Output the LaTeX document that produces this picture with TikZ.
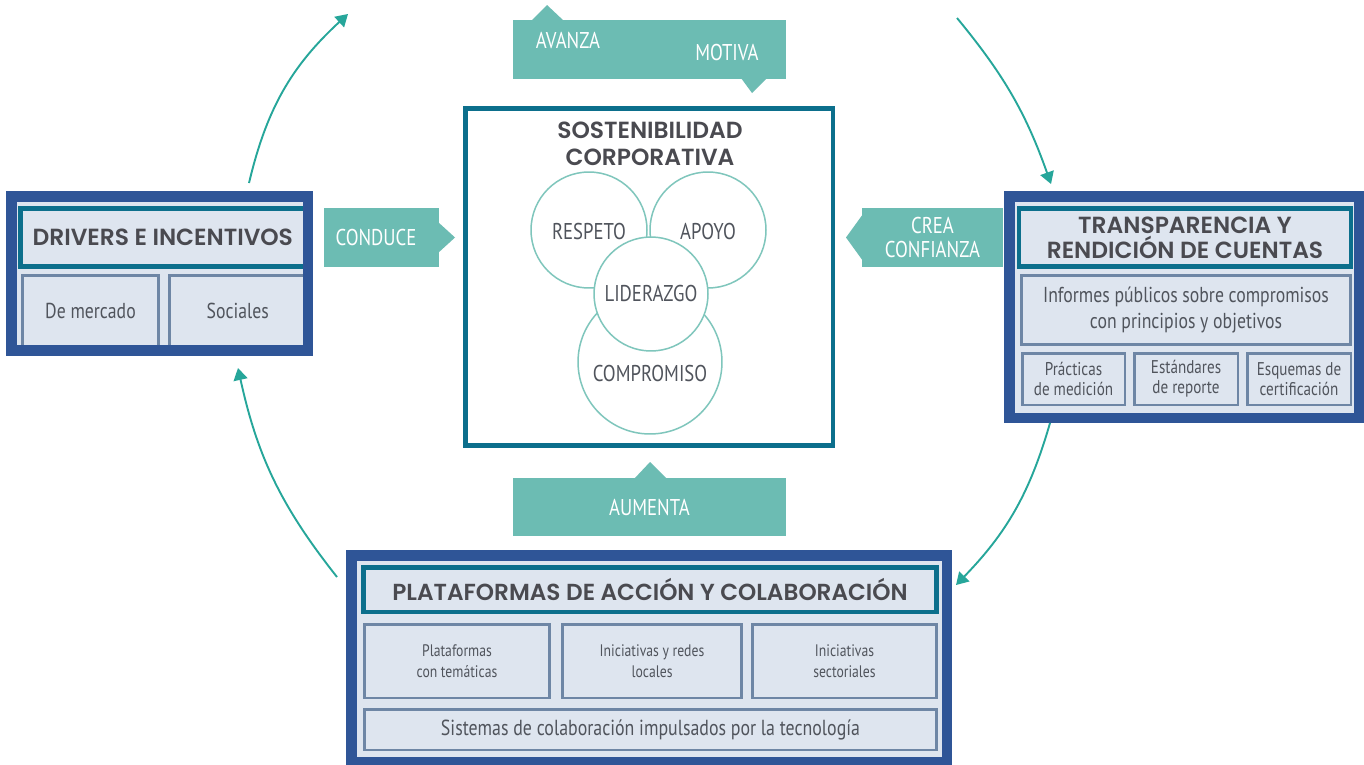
\documentclass[tikz,border=0pt]{standalone}
\usepackage{fontspec}
\setmainfont{PT Sans}
\newfontfamily\narrowfont[FakeStretch=0.82]{PT Sans}
\newfontfamily\headfont[BoldFont={Poppins SemiBold}]{Poppins}
\usetikzlibrary{arrows.meta}
\definecolor{navy}{HTML}{2F5597}
\definecolor{deepteal}{HTML}{0C6F8C}
\definecolor{panelfill}{HTML}{DEE5EF}
\definecolor{subline}{HTML}{6E86A5}
\definecolor{bancol}{HTML}{6CBCB3}
\definecolor{ringcol}{HTML}{7FC6BC}
\definecolor{cyclecol}{HTML}{26A69A}
\definecolor{headgray}{HTML}{4A4A50}
\definecolor{bodygray}{HTML}{50545C}
\tikzstyle{panel} = [
  rectangle,
  fill=panelfill,
  inner sep=0pt,
  outer sep=0pt,
]
\tikzstyle{titlebox} = [
  rectangle,
  draw=deepteal,
  line width=0.09cm,
  fill=panelfill,
  inner sep=0pt,
  align=center,
  text=headgray,
]
\tikzstyle{subbox} = [
  rectangle,
  draw=subline,
  line width=0.05cm,
  fill=panelfill,
  inner sep=0pt,
  align=center,
  text=bodygray,
]
\tikzstyle{banner} = [
  rectangle,
  fill=bancol,
  inner sep=0pt,
  align=center,
  text=white,
  font={\narrowfont\fontsize{13}{13.1}\selectfont},
]
\tikzstyle{bantext} = [
  text=white,
  inner sep=0pt,
  font={\narrowfont\fontsize{13}{15}\selectfont},
]
\tikzstyle{ring} = [
  circle,
  draw=ringcol,
  line width=0.03cm,
  fill=white,
  inner sep=0pt,
]
\tikzstyle{ringtext} = [
  text=bodygray,
  inner sep=0pt,
  font={\narrowfont\fontsize{13}{15}\selectfont},
]
\tikzstyle{cycle} = [
  draw=cyclecol,
  line width=0.038cm,
  -{Triangle[length=0.24cm,width=0.28cm]},
]

\begin{document}
\begin{tikzpicture}[
    x=0.02cm,
    y=-0.02cm,
  ]
  \fill[white] (0,0) rectangle (1364,764);
  \useasboundingbox (0,0) rectangle (1364,764);

  % centre
  \node[
    rectangle,
    draw=deepteal,
    line width=0.09cm,
    minimum width=7.35cm,
    minimum height=6.74cm,
  ](core) at (649.25,277) {};
  \node[
    text=headgray,
    align=center,
    font={\headfont\bfseries\fontsize{13.3}{15.4}\selectfont},
  ](coretitle) at (650,143.5) {SOSTENIBILIDAD\\CORPORATIVA};
  \node[ring, minimum size=2.88cm](comp) at (650,362) {};
  \node[ring, minimum size=2.32cm](resp) at (589,230) {};
  \node[ring, minimum size=2.32cm](apoyo) at (708,230) {};
  \node[ring, minimum size=2.28cm](lider) at (651,294) {};
  \node[ringtext] (resptext) at ([yshift=-0.03cm]resp.center) {RESPETO};
  \node[ringtext] (apoyotext) at ([yshift=-0.03cm]apoyo.center) {APOYO};
  \node[ringtext] (lidertext) at (lider.center) {LIDERAZGO};
  \node[ringtext] (comptext) at ([yshift=-0.24cm]comp.center) {COMPROMISO};

  % banners
  \node[banner, minimum width=5.46cm, minimum height=1.18cm]
    (topban) at (649.5,49.5) {};
  \fill[bancol] (531,21) -- (547,5) -- (564,21) -- cycle;
  \fill[bancol] (741,78) -- (752,93) -- (767,78) -- cycle;
  \node[bantext] (avanza) at (568,41) {AVANZA};
  \node[bantext] (motiva) at (727,53) {MOTIVA};

  \node[banner, minimum width=2.3cm, minimum height=1.18cm]
    (conduce) at (381.5,237.5) {};
  \node[bantext] (conducetext) at (376,237.5) {CONDUCE};
  \fill[bancol] (438,222) -- (455,237.5) -- (438,253) -- cycle;

  \node[banner, minimum width=2.82cm, minimum height=1.18cm]
    (crea) at (932.5,237.5) {CREA\\CONFIANZA};
  \fill[bancol] (863,214) -- (846,237.5) -- (863,261) -- cycle;

  \node[banner, minimum width=5.46cm, minimum height=1.16cm]
    (aumenta) at (649.5,507) {AUMENTA};
  \fill[bancol] (634,479) -- (650,462) -- (667,479) -- cycle;

  % drivers
  \node[panel, minimum width=5.935cm, minimum height=3.08cm]
    (drvpanel) at (159.6,273.5) {};
  \node[
    titlebox,
    minimum width=5.69cm,
    minimum height=1.17cm,
    font={\headfont\bfseries\fontsize{13.3}{14}\selectfont},
  ](drvtitle) at (162.75,237.5) {DRIVERS E INCENTIVOS};
  \node[
    subbox,
    minimum width=2.72cm,
    minimum height=1.43cm,
    font={\narrowfont\fontsize{12.3}{14}\selectfont},
  ](mercado) at (90.5,311.25) {De mercado};
  \node[
    subbox,
    minimum width=2.73cm,
    minimum height=1.43cm,
    font={\narrowfont\fontsize{12.3}{14}\selectfont},
  ](sociales) at (237.75,311.25) {Sociales};
  \draw[navy, line width=0.21cm] (drvpanel.north west) rectangle (drvpanel.south east);

  % transparencia
  \node[panel, minimum width=7cm, minimum height=4.43cm]
    (trpanel) at (1184.5,307.25) {};
  \node[
    titlebox,
    minimum width=6.64cm,
    minimum height=1.16cm,
    font={\headfont\bfseries\fontsize{13.3}{14.2}\selectfont},
  ](trtitle) at (1185,237.5) {TRANSPARENCIA Y\\RENDICIÓN DE CUENTAS};
  \node[
    subbox,
    minimum width=6.59cm,
    minimum height=1.39cm,
    font={\narrowfont\fontsize{12.3}{14.8}\selectfont},
  ](informes) at (1186,310) {Informes públicos sobre compromisos\\con principios y objetivos};
  \node[
    subbox,
    minimum width=2.05cm,
    minimum height=1.03cm,
    font={\narrowfont\fontsize{10.5}{11.4}\selectfont},
  ](practicas) at (1073.5,379) {Prácticas\\de medición};
  \node[
    subbox,
    minimum width=2.07cm,
    minimum height=1.03cm,
    font={\narrowfont\fontsize{10.5}{11.4}\selectfont},
  ](estandares) at (1186,379) {Estándares\\de reporte};
  \node[
    subbox,
    minimum width=2.07cm,
    minimum height=1.03cm,
    font={\narrowfont\fontsize{10.5}{11.4}\selectfont},
  ](esquemas) at (1299,379) {Esquemas de\\certificación};
  \draw[navy, line width=0.21cm] (trpanel.north west) rectangle (trpanel.south east);

  % plataformas
  \node[panel, minimum width=11.91cm, minimum height=4.13cm]
    (plpanel) at (649.25,658.75) {};
  \node[
    titlebox,
    minimum width=11.47cm,
    minimum height=0.89cm,
    font={\headfont\bfseries\fontsize{13.2}{15}\selectfont},
  ](pltitle) at (650,589.5) {PLATAFORMAS DE ACCIÓN Y COLABORACIÓN};
  \node[
    subbox,
    minimum width=3.71cm,
    minimum height=1.47cm,
    font={\narrowfont\fontsize{9.5}{12}\selectfont},
  ](tematicas) at (457,661) {Plataformas\\con temáticas};
  \node[
    subbox,
    minimum width=3.59cm,
    minimum height=1.47cm,
    font={\narrowfont\fontsize{9.5}{12}\selectfont},
  ](redes) at (652,661) {Iniciativas y redes\\locales};
  \node[
    subbox,
    minimum width=3.69cm,
    minimum height=1.47cm,
    font={\narrowfont\fontsize{9.5}{12}\selectfont},
  ](sectoriales) at (844.5,661) {Iniciativas\\sectoriales};
  \node[
    subbox,
    minimum width=11.45cm,
    minimum height=0.81cm,
    font={\narrowfont\fontsize{12.4}{14}\selectfont},
  ](sistemas) at (650.5,729.5) {Sistemas de colaboración impulsados por la tecnología};
  \draw[navy, line width=0.21cm] (plpanel.north west) rectangle (plpanel.south east);

  % cycle
  \coordinate (c1a) at (249,183);
  \coordinate (c1b) at (348,14);
  \coordinate (c2a) at (957,18);
  \coordinate (c2b) at (1051,184);
  \coordinate (c3a) at (1050,423);
  \coordinate (c3b) at (956,585);
  \coordinate (c4a) at (337,577);
  \coordinate (c4b) at (238,368);
  \draw[cycle] (c1a) to[bend left=17] (c1b);
  \draw[cycle] (c2a) to[bend left=10] (c2b);
  \draw[cycle] (c3a) to[bend left=14] (c3b);
  \draw[cycle] (c4a) to[bend left=13] (c4b);
\end{tikzpicture}
\end{document}
